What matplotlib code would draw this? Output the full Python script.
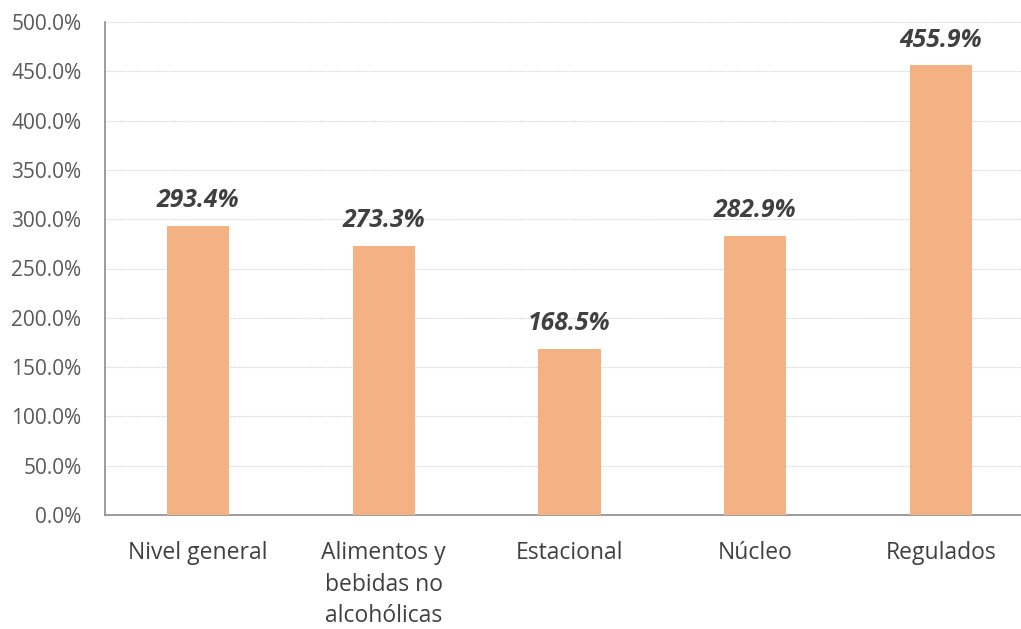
import matplotlib
matplotlib.use("Agg")
import matplotlib.pyplot as plt
from matplotlib.ticker import FuncFormatter

categories = ["Nivel general", "Alimentos y\nbebidas no\nalcohólicas", "Estacional", "Núcleo", "Regulados"]
values = [293.4, 273.3, 168.5, 282.9, 455.9]
yticks = [0, 50, 100, 150, 200, 250, 300, 350, 400, 450, 500]

plt.rcParams['font.family'] = ['Open Sans', 'DejaVu Sans']

fig = plt.figure(figsize=(10.21, 6.29), dpi=100)
ax = fig.add_axes([105/1021, 114/629, 916/1021, 493/629])

x = list(range(len(categories)))
ax.bar(x, values, width=0.335, color="#F4B183", zorder=3)
for xi, v in zip(x, values):
    ax.text(xi, v + 13, f"{v:.1f}%", ha="center", va="bottom", fontsize=17.8,
            fontweight="bold", fontstyle="italic", color="#404040", zorder=4)

ax.set_xlim(-0.5, 4.43)
ax.set_ylim(0, 500)
ax.set_yticks(yticks)
ax.yaxis.set_major_formatter(FuncFormatter(lambda v, p: f"{v:.1f}%"))
ax.set_xticks(x)
ax.set_xticklabels(categories, fontsize=16.5, color="#404040", linespacing=1.4)
ax.tick_params(axis="y", length=0, labelsize=15, labelcolor="#595959", pad=17)
ax.tick_params(axis="x", length=0, pad=19)
ax.grid(axis="y", color="#DADADA", linestyle=(0, (1.5, 1)), linewidth=0.8, zorder=0)
for s in ["top", "right"]:
    ax.spines[s].set_visible(False)
for s in ["left", "bottom"]:
    ax.spines[s].set_color("#8C8C8C")
    ax.spines[s].set_linewidth(1.2)

fig.savefig("out.png", dpi=100)
